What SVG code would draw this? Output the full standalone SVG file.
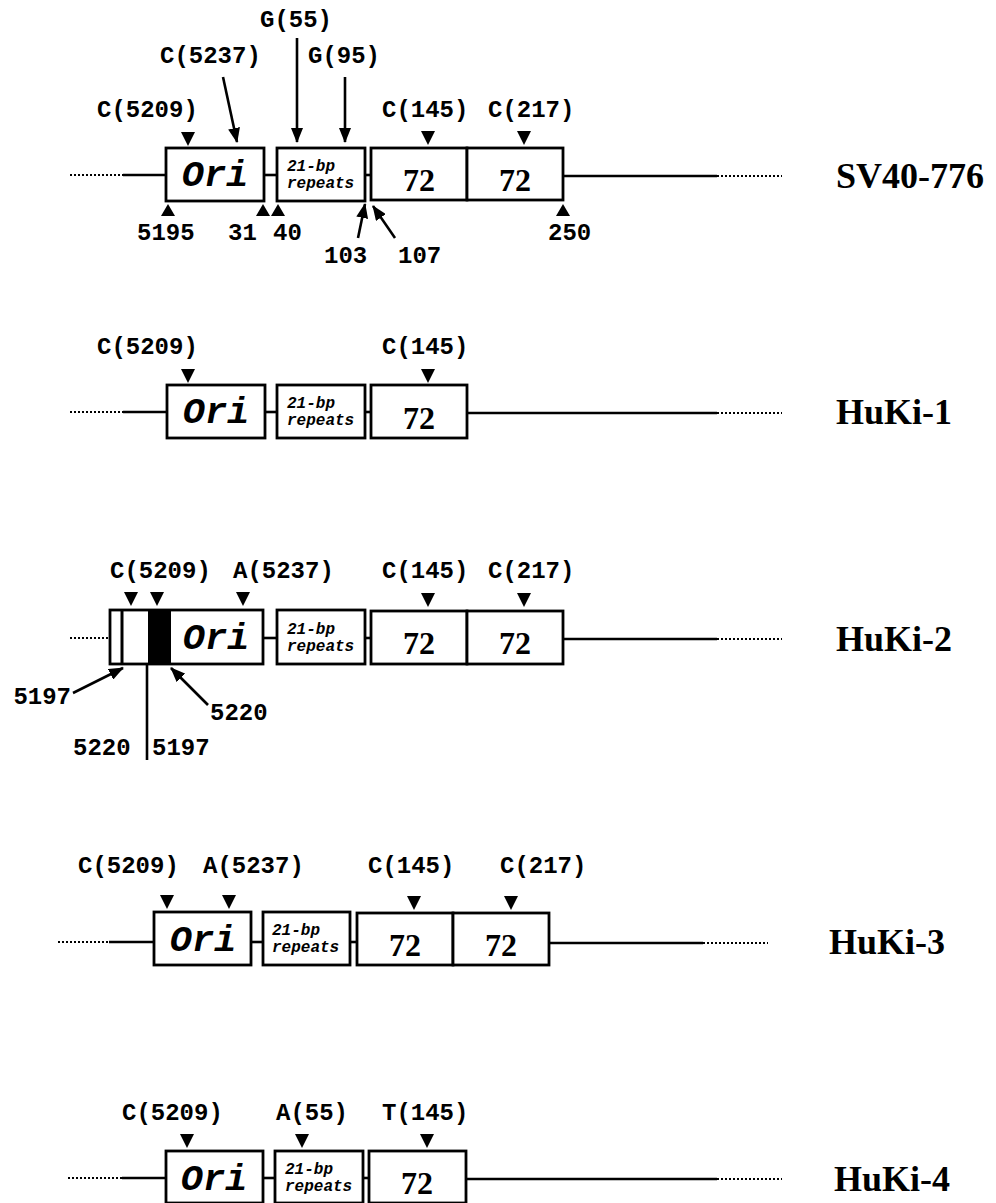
<svg xmlns="http://www.w3.org/2000/svg" width="996" height="1203" viewBox="0 0 996 1203">
<defs>
<style>
.bx{fill:#fff;stroke:#000;stroke-width:2.8}
.ln{fill:none;stroke:#000;stroke-width:2.6}
.dt{fill:none;stroke:#000;stroke-width:2.2;stroke-dasharray:2 2}
.ar{fill:none;stroke:#000;stroke-width:2.6;marker-end:url(#ah)}
.tri{fill:#000}
.m{font-family:"Liberation Mono","Courier New",monospace;font-size:24px;font-weight:bold;fill:#000}
.ori{font-family:"Liberation Mono","Courier New",monospace;font-size:37px;font-weight:bold;font-style:italic;text-anchor:middle;fill:#000}
.rp{font-family:"Liberation Mono","Courier New",monospace;font-size:16px;font-weight:bold;font-style:italic;fill:#000}
.n72{font-family:"Liberation Serif","Times New Roman",serif;font-size:32px;font-weight:bold;text-anchor:middle;fill:#000}
.nm{font-family:"Liberation Serif","Times New Roman",serif;font-size:36px;font-weight:bold;fill:#000}
</style>
<marker id="ah" markerUnits="userSpaceOnUse" markerWidth="15" markerHeight="12" refX="14" refY="6" orient="auto">
<path d="M0,0 L15,6 L0,12 z" fill="#000"/>
</marker>
</defs>
<rect width="996" height="1203" fill="#fff"/>

<!-- connectors / backbone lines -->
<g id="connectors">
<!-- SV40-776 -->
<line class="dt" x1="70" y1="175" x2="123" y2="175"/>
<line class="ln" x1="123" y1="175" x2="166" y2="175"/>
<line class="ln" x1="264" y1="175" x2="277" y2="175"/>
<line class="ln" x1="365" y1="175" x2="371" y2="175"/>
<line class="ln" x1="563" y1="176" x2="717" y2="176"/>
<line class="dt" x1="717" y1="176" x2="782" y2="176"/>
<line class="ar" x1="223" y1="77" x2="237" y2="142"/>
<line class="ar" x1="297" y1="38" x2="297" y2="142"/>
<line class="ar" x1="345" y1="77" x2="345" y2="142"/>
<line class="ar" x1="358" y1="238" x2="365" y2="204"/>
<line class="ar" x1="395" y1="238" x2="373" y2="206"/>
<!-- HuKi-1 -->
<line class="dt" x1="70" y1="412" x2="123" y2="412"/>
<line class="ln" x1="123" y1="412" x2="167" y2="412"/>
<line class="ln" x1="265" y1="412" x2="277" y2="412"/>
<line class="ln" x1="365" y1="412" x2="371" y2="412"/>
<line class="ln" x1="467" y1="413" x2="717" y2="413"/>
<line class="dt" x1="717" y1="413" x2="782" y2="413"/>
<!-- HuKi-2 -->
<line class="dt" x1="70" y1="638" x2="110" y2="638"/>
<line class="ln" x1="263" y1="638" x2="277" y2="638"/>
<line class="ln" x1="365" y1="638" x2="371" y2="638"/>
<line class="ln" x1="563" y1="639" x2="717" y2="639"/>
<line class="dt" x1="717" y1="639" x2="782" y2="639"/>
<line class="ar" x1="73" y1="693" x2="123" y2="668"/>
<line class="ar" x1="208" y1="705" x2="171" y2="668"/>
<line class="ln" x1="147" y1="664" x2="147" y2="760"/>
<!-- HuKi-3 -->
<line class="dt" x1="58" y1="942" x2="109" y2="942"/>
<line class="ln" x1="109" y1="942" x2="154" y2="942"/>
<line class="ln" x1="251" y1="942" x2="263" y2="942"/>
<line class="ln" x1="350" y1="942" x2="357" y2="942"/>
<line class="ln" x1="549" y1="943" x2="703" y2="943"/>
<line class="dt" x1="703" y1="943" x2="768" y2="943"/>
<!-- HuKi-4 -->
<line class="dt" x1="68" y1="1178" x2="122" y2="1178"/>
<line class="ln" x1="122" y1="1178" x2="166" y2="1178"/>
<line class="ln" x1="263" y1="1178" x2="275" y2="1178"/>
<line class="ln" x1="363" y1="1178" x2="369" y2="1178"/>
<line class="ln" x1="466" y1="1179" x2="717" y2="1179"/>
<line class="dt" x1="717" y1="1179" x2="782" y2="1179"/>
</g>

<!-- SV40-776 -->
<g id="sv40">
<rect class="bx" x="166" y="148" width="98" height="53"/>
<text class="ori" x="215" y="186">Ori</text>
<rect class="bx" x="277" y="148" width="88" height="53"/>
<text class="rp" x="287" y="171">21-bp</text>
<text class="rp" x="287" y="188">repeats</text>
<rect class="bx" x="371" y="148" width="96" height="52"/>
<text class="n72" x="419" y="191">72</text>
<rect class="bx" x="467" y="148" width="96" height="52"/>
<text class="n72" x="515" y="191">72</text>
<polygon class="tri" points="181,132 195,132 188,146"/>
<polygon class="tri" points="421,131 435,131 428,145"/>
<polygon class="tri" points="517,131 531,131 524,145"/>
<polygon class="tri" points="168,204 161,216 175,216"/>
<polygon class="tri" points="263,204 256,216 270,216"/>
<polygon class="tri" points="278,204 271,216 285,216"/>
<polygon class="tri" points="563,204 556,216 570,216"/>
<text class="m" x="260" y="27">G(55)</text>
<text class="m" x="160" y="63">C(5237)</text>
<text class="m" x="308" y="63">G(95)</text>
<text class="m" x="97" y="117">C(5209)</text>
<text class="m" x="382" y="117">C(145)</text>
<text class="m" x="488" y="117">C(217)</text>
<text class="m" x="137" y="240">5195</text>
<text class="m" x="228" y="240">31</text>
<text class="m" x="273" y="240">40</text>
<text class="m" x="548" y="240">250</text>
<text class="m" x="324" y="263">103</text>
<text class="m" x="398" y="263">107</text>
<text class="nm" x="836" y="188">SV40-776</text>
</g>

<!-- HuKi-1 -->
<g id="huki1">
<rect class="bx" x="167" y="385" width="98" height="53"/>
<text class="ori" x="216" y="423">Ori</text>
<rect class="bx" x="277" y="385" width="88" height="53"/>
<text class="rp" x="287" y="408">21-bp</text>
<text class="rp" x="287" y="425">repeats</text>
<rect class="bx" x="371" y="385" width="96" height="53"/>
<text class="n72" x="419" y="429">72</text>
<polygon class="tri" points="181,369 195,369 188,383"/>
<polygon class="tri" points="421,369 435,369 428,383"/>
<text class="m" x="97" y="354">C(5209)</text>
<text class="m" x="382" y="354">C(145)</text>
<text class="nm" x="836" y="424">HuKi-1</text>
</g>

<!-- HuKi-2 -->
<g id="huki2">
<rect class="bx" x="110" y="610" width="153" height="54"/>
<line class="ln" x1="122" y1="610" x2="122" y2="664" style="stroke-width:3"/>
<rect x="148" y="610" width="23" height="54" fill="#000"/>
<text class="ori" x="216" y="649">Ori</text>
<rect class="bx" x="277" y="610" width="88" height="54"/>
<text class="rp" x="287" y="634">21-bp</text>
<text class="rp" x="287" y="651">repeats</text>
<rect class="bx" x="371" y="611" width="96" height="53"/>
<text class="n72" x="419" y="654">72</text>
<rect class="bx" x="467" y="611" width="96" height="53"/>
<text class="n72" x="515" y="654">72</text>
<polygon class="tri" points="124,592 138,592 131,606"/>
<polygon class="tri" points="150,592 164,592 157,606"/>
<polygon class="tri" points="236,592 250,592 243,606"/>
<polygon class="tri" points="421,593 435,593 428,607"/>
<polygon class="tri" points="517,593 531,593 524,607"/>
<text class="m" x="110" y="578">C(5209)</text>
<text class="m" x="233" y="578">A(5237)</text>
<text class="m" x="382" y="578">C(145)</text>
<text class="m" x="488" y="578">C(217)</text>
<text class="m" x="71" y="704" text-anchor="end">5197</text>
<text class="m" x="210" y="720">5220</text>
<text class="m" x="73" y="755">5220</text>
<text class="m" x="152" y="755">5197</text>
<text class="nm" x="836" y="651">HuKi-2</text>
</g>

<!-- HuKi-3 -->
<g id="huki3">
<rect class="bx" x="154" y="912" width="97" height="53"/>
<text class="ori" x="203" y="951">Ori</text>
<rect class="bx" x="263" y="912" width="87" height="53"/>
<text class="rp" x="272" y="935">21-bp</text>
<text class="rp" x="272" y="952">repeats</text>
<rect class="bx" x="357" y="913" width="96" height="52"/>
<text class="n72" x="405" y="956">72</text>
<rect class="bx" x="453" y="913" width="96" height="52"/>
<text class="n72" x="501" y="956">72</text>
<polygon class="tri" points="160,895 174,895 167,909"/>
<polygon class="tri" points="222,895 236,895 229,909"/>
<polygon class="tri" points="407,896 421,896 414,910"/>
<polygon class="tri" points="504,896 518,896 511,910"/>
<text class="m" x="78" y="873">C(5209)</text>
<text class="m" x="203" y="873">A(5237)</text>
<text class="m" x="368" y="873">C(145)</text>
<text class="m" x="500" y="873">C(217)</text>
<text class="nm" x="829" y="954">HuKi-3</text>
</g>

<!-- HuKi-4 -->
<g id="huki4">
<rect class="bx" x="166" y="1151" width="97" height="52"/>
<text class="ori" x="214" y="1190">Ori</text>
<rect class="bx" x="275" y="1151" width="88" height="52"/>
<text class="rp" x="285" y="1174">21-bp</text>
<text class="rp" x="285" y="1191">repeats</text>
<rect class="bx" x="369" y="1151" width="97" height="52"/>
<text class="n72" x="417" y="1194">72</text>
<polygon class="tri" points="180,1134 194,1134 187,1148"/>
<polygon class="tri" points="295,1134 309,1134 302,1148"/>
<polygon class="tri" points="420,1134 434,1134 427,1148"/>
<text class="m" x="122" y="1120">C(5209)</text>
<text class="m" x="276" y="1120">A(55)</text>
<text class="m" x="382" y="1120">T(145)</text>
<text class="nm" x="834" y="1191">HuKi-4</text>
</g>
</svg>
